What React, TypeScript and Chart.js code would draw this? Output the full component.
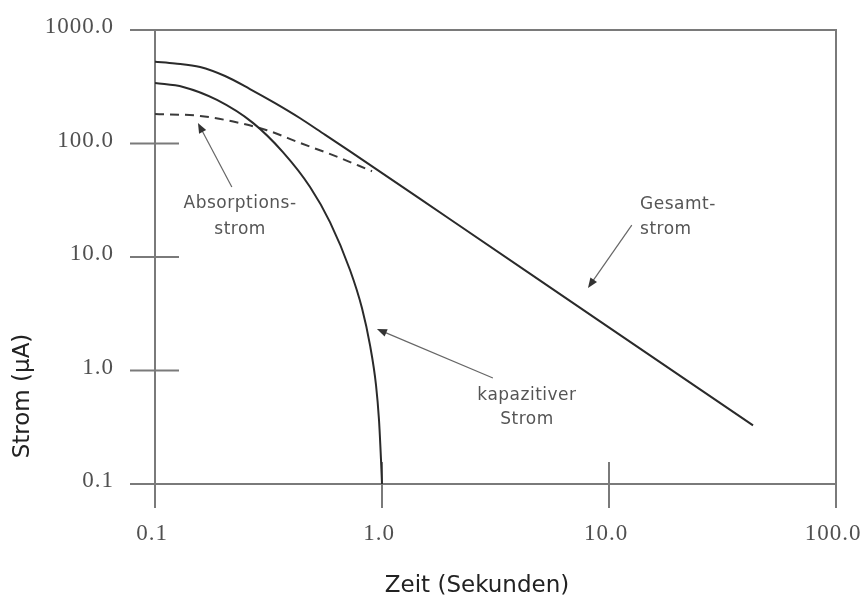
import { useEffect, useRef } from "react";
import { Chart, registerables } from "chart.js";

Chart.register(...registerables);

// Zeit in Sekunden, Strom in µA
const gesamtZeit = [0.1, 0.1225, 0.158, 0.2035, 0.262, 0.338, 0.436, 0.5623, 0.723, 1.994, 9.13, 43.1];
const gesamtStrom = [526, 508, 472, 393, 302, 227, 167, 119, 85.3, 21.5, 2.71, 0.328];

const kapZeit = [0.1, 0.133, 0.1875, 0.27, 0.366, 0.482, 0.59, 0.723, 0.816, 0.885, 0.941, 0.97, 0.99, 1.0];
const kapStrom = [341, 315, 242, 152, 84, 41.4, 20.3, 7.68, 3.55, 1.68, 0.745, 0.366, 0.163, 0.1];

const absZeit = [0.1, 0.158, 0.221, 0.311, 0.436, 0.608, 0.904];
const absStrom = [182, 175, 156, 131, 101, 79, 57];

const xTicks = [0.1, 1, 10, 100];
const yTicks = [0.1, 1, 10, 100, 1000];

const xTitle = "Zeit (Sekunden)";
const yTitle = "Strom (μA)";

// Beschriftungen mit Pfeil: Textzeilen, Textposition und Pfeil in Datenkoordinaten
const labelLines = [
  ["Absorptions-", "strom"],
  ["Gesamt-", "strom"],
  ["kapazitiver", "Strom"],
];
const labelAlign: CanvasTextAlign[] = ["center", "left", "center"];
const labelZeit = [0.237, 13.7, 4.35];
const labelStrom = [
  [29.3, 17.6],
  [28.7, 17.3],
  [0.596, 0.366],
];
const arrowFromZeit = [0.218, 12.6, 3.08];
const arrowFromStrom = [41.4, 19.1, 0.859];
const arrowToZeit = [0.1546, 8.08, 0.95];
const arrowToStrom = [151.7, 5.33, 2.32];

const toPoints = (xs: number[], ys: number[]) => xs.map((x, i) => ({ x, y: ys[i] }));

const framePlugin = {
  id: "frame",
  beforeDatasetsDraw(chart: any) {
    const { ctx, chartArea, scales } = chart;
    const xs = scales.x;
    const ys = scales.y;
    const { left, right, top, bottom } = chartArea;
    ctx.save();
    ctx.strokeStyle = "#7a7a7a";
    ctx.lineWidth = 2;
    ctx.beginPath();
    // Rahmen
    ctx.moveTo(left - 25, top);
    ctx.lineTo(right + 1, top);
    ctx.moveTo(right, top);
    ctx.lineTo(right, bottom + 24);
    ctx.moveTo(left, top);
    ctx.lineTo(left, bottom + 24);
    ctx.moveTo(left - 25, bottom);
    ctx.lineTo(right, bottom);
    // Teilstriche
    yTicks.forEach((v) => {
      if (v === yTicks[0] || v === yTicks[yTicks.length - 1]) return;
      const py = ys.getPixelForValue(v);
      ctx.moveTo(left - 25, py);
      ctx.lineTo(left + 24, py);
    });
    xTicks.forEach((v) => {
      if (v === xTicks[0] || v === xTicks[xTicks.length - 1]) return;
      const px = xs.getPixelForValue(v);
      ctx.moveTo(px, bottom - 22);
      ctx.lineTo(px, bottom + 24);
    });
    ctx.stroke();

    // Achsenbeschriftung
    ctx.fillStyle = "#505050";
    ctx.font = "23px 'Liberation Serif', serif";
    (ctx as any).letterSpacing = "1px";
    ctx.textBaseline = "middle";
    ctx.textAlign = "right";
    yTicks.forEach((v) => {
      ctx.fillText(v.toFixed(1), left - 41, ys.getPixelForValue(v) - 3);
    });
    ctx.textAlign = "center";
    xTicks.forEach((v) => {
      ctx.fillText(v.toFixed(1), xs.getPixelForValue(v) - 3, bottom + 50);
    });
    (ctx as any).letterSpacing = "0px";

    ctx.fillStyle = "#222";
    ctx.font = "23px 'DejaVu Sans', sans-serif";
    ctx.fillText(xTitle, 477, 586);
    ctx.save();
    ctx.translate(23, 396);
    ctx.rotate(-Math.PI / 2);
    ctx.fillText(yTitle, 0, 0);
    ctx.restore();
    ctx.restore();
  },
  afterDatasetsDraw(chart: any) {
    const { ctx, scales } = chart;
    const xs = scales.x;
    const ys = scales.y;
    ctx.save();
    labelLines.forEach((lines, i) => {
      ctx.fillStyle = "#555";
      ctx.font = "17px 'DejaVu Sans', sans-serif";
      (ctx as any).letterSpacing = "0.5px";
      ctx.textAlign = labelAlign[i];
      ctx.textBaseline = "middle";
      const px = xs.getPixelForValue(labelZeit[i]);
      lines.forEach((t, j) => {
        ctx.fillText(t, px, ys.getPixelForValue(labelStrom[i][j]));
      });
      const x0 = xs.getPixelForValue(arrowFromZeit[i]);
      const y0 = ys.getPixelForValue(arrowFromStrom[i]);
      const x1 = xs.getPixelForValue(arrowToZeit[i]);
      const y1 = ys.getPixelForValue(arrowToStrom[i]);
      const ang = Math.atan2(y1 - y0, x1 - x0);
      const len = 10;
      const half = 4;
      ctx.strokeStyle = "#666";
      ctx.lineWidth = 1.2;
      ctx.beginPath();
      ctx.moveTo(x0, y0);
      ctx.lineTo(x1 - Math.cos(ang) * len * 0.8, y1 - Math.sin(ang) * len * 0.8);
      ctx.stroke();
      ctx.fillStyle = "#333";
      ctx.beginPath();
      ctx.moveTo(x1, y1);
      ctx.lineTo(
        x1 - Math.cos(ang) * len - Math.sin(ang) * half,
        y1 - Math.sin(ang) * len + Math.cos(ang) * half
      );
      ctx.lineTo(
        x1 - Math.cos(ang) * len + Math.sin(ang) * half,
        y1 - Math.sin(ang) * len - Math.cos(ang) * half
      );
      ctx.closePath();
      ctx.fill();
    });
    ctx.restore();
  },
};

export default function App() {
  const canvasRef = useRef<HTMLCanvasElement | null>(null);

  useEffect(() => {
    const canvas = canvasRef.current;
    if (!canvas) return;
    const lineStyle = {
      borderColor: "#2a2a2a",
      borderWidth: 2,
      pointRadius: 0,
      fill: false,
      cubicInterpolationMode: "monotone" as const,
    };
    const chart = new Chart(canvas, {
      type: "line",
      data: {
        datasets: [
          { label: "Gesamtstrom", data: toPoints(gesamtZeit, gesamtStrom), ...lineStyle },
          { label: "kapazitiver Strom", data: toPoints(kapZeit, kapStrom), ...lineStyle },
          {
            label: "Absorptionsstrom",
            data: toPoints(absZeit, absStrom),
            ...lineStyle,
            borderColor: "#3a3a3a",
            borderDash: [9, 6],
          },
        ],
      },
      options: {
        responsive: false,
        animation: false,
        parsing: false as any,
        layout: { padding: { left: 155, right: 27, top: 30, bottom: 115 } },
        plugins: { legend: { display: false }, tooltip: { enabled: false } },
        scales: {
          x: { type: "logarithmic", min: 0.1, max: 100, display: false },
          y: { type: "logarithmic", min: 0.1, max: 1000, display: false },
        },
      },
      plugins: [framePlugin],
    });
    return () => chart.destroy();
  }, []);

  return (
    <div style={{ position: "fixed", left: 0, top: 0, width: 863, height: 599, background: "#fff" }}>
      <canvas ref={canvasRef} width={863} height={599} style={{ display: "block" }} />
    </div>
  );
}
